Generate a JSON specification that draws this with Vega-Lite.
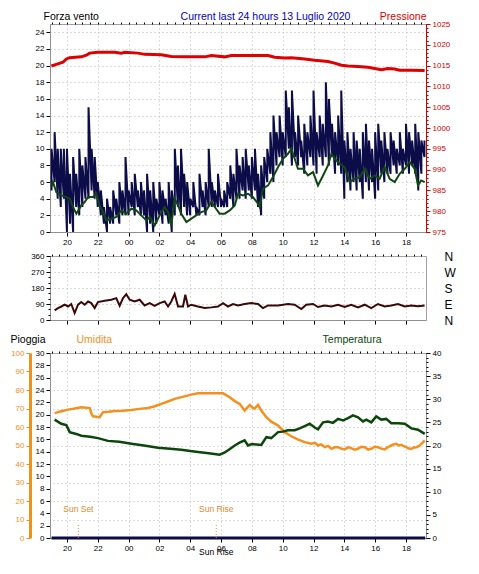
{
"$schema": "https://vega.github.io/schema/vega-lite/v6.json",
"background": "white",
"padding": {"left": 9, "top": 10, "right": 0, "bottom": 0},
"spacing": 2,
"datasets": {
"gust": [
{"h":19.0,"lo":5,"hi":10},{"h":19.2,"lo":6,"hi":12},{"h":19.4,"lo":4,"hi":10},{"h":19.6,"lo":3,"hi":10},{"h":19.8,"lo":4,"hi":10},
{"h":20.0,"lo":0,"hi":10},{"h":20.2,"lo":1,"hi":7},{"h":20.4,"lo":0,"hi":9},{"h":20.6,"lo":3,"hi":7},{"h":20.8,"lo":2,"hi":10},
{"h":21.0,"lo":3,"hi":8},{"h":21.2,"lo":4,"hi":9},{"h":21.4,"lo":4,"hi":15},{"h":21.6,"lo":5,"hi":10},{"h":21.8,"lo":4,"hi":9},
{"h":22.0,"lo":3,"hi":6},{"h":22.2,"lo":2,"hi":5},{"h":22.4,"lo":1,"hi":3},{"h":22.6,"lo":0,"hi":4},{"h":22.8,"lo":1,"hi":3},
{"h":23.0,"lo":1,"hi":5},{"h":23.2,"lo":2,"hi":4},{"h":23.4,"lo":1,"hi":6},{"h":23.6,"lo":2,"hi":5},{"h":23.8,"lo":2,"hi":9},
{"h":24.0,"lo":2,"hi":5},{"h":24.2,"lo":3,"hi":6},{"h":24.4,"lo":2,"hi":7},{"h":24.6,"lo":3,"hi":5},{"h":24.8,"lo":2,"hi":6},
{"h":25.0,"lo":2,"hi":5},{"h":25.2,"lo":0,"hi":7},{"h":25.4,"lo":1,"hi":5},{"h":25.6,"lo":0,"hi":6},{"h":25.8,"lo":1,"hi":4},
{"h":26.0,"lo":2,"hi":6},{"h":26.2,"lo":1,"hi":5},{"h":26.4,"lo":2,"hi":4},{"h":26.6,"lo":1,"hi":6},{"h":26.8,"lo":0,"hi":5},
{"h":27.0,"lo":2,"hi":10},{"h":27.2,"lo":3,"hi":8},{"h":27.4,"lo":2,"hi":10},{"h":27.6,"lo":3,"hi":7},{"h":27.8,"lo":2,"hi":6},
{"h":28.0,"lo":2,"hi":4},{"h":28.2,"lo":3,"hi":6},{"h":28.4,"lo":2,"hi":3},{"h":28.6,"lo":2,"hi":7},{"h":28.8,"lo":3,"hi":5},
{"h":29.0,"lo":2,"hi":6},{"h":29.2,"lo":3,"hi":10},{"h":29.4,"lo":3,"hi":6},{"h":29.6,"lo":3,"hi":5},{"h":29.8,"lo":3,"hi":7},
{"h":30.0,"lo":3,"hi":4},{"h":30.2,"lo":3,"hi":5},{"h":30.4,"lo":3,"hi":6},{"h":30.6,"lo":4,"hi":8},{"h":30.8,"lo":3,"hi":7},
{"h":31.0,"lo":4,"hi":10},{"h":31.2,"lo":4,"hi":8},{"h":31.4,"lo":5,"hi":9},{"h":31.6,"lo":4,"hi":10},{"h":31.8,"lo":5,"hi":8},
{"h":32.0,"lo":4,"hi":9},{"h":32.2,"lo":5,"hi":10},{"h":32.4,"lo":3,"hi":7},{"h":32.6,"lo":2,"hi":8},{"h":32.8,"lo":4,"hi":9},
{"h":33.0,"lo":6,"hi":10},{"h":33.2,"lo":7,"hi":12},{"h":33.4,"lo":6,"hi":14},{"h":33.6,"lo":8,"hi":12},{"h":33.8,"lo":9,"hi":14},
{"h":34.0,"lo":8,"hi":12},{"h":34.2,"lo":9,"hi":17},{"h":34.4,"lo":10,"hi":15},{"h":34.6,"lo":8,"hi":17},{"h":34.8,"lo":9,"hi":12},
{"h":35.0,"lo":8,"hi":14},{"h":35.2,"lo":9,"hi":11},{"h":35.4,"lo":7,"hi":13},{"h":35.6,"lo":8,"hi":12},{"h":35.8,"lo":9,"hi":14},
{"h":36.0,"lo":8,"hi":17},{"h":36.2,"lo":7,"hi":12},{"h":36.4,"lo":9,"hi":14},{"h":36.6,"lo":8,"hi":13},{"h":36.8,"lo":9,"hi":18},
{"h":37.0,"lo":8,"hi":16},{"h":37.2,"lo":9,"hi":13},{"h":37.4,"lo":7,"hi":12},{"h":37.6,"lo":8,"hi":14},{"h":37.8,"lo":7,"hi":17},
{"h":38.0,"lo":4,"hi":11},{"h":38.2,"lo":6,"hi":12},{"h":38.4,"lo":5,"hi":10},{"h":38.6,"lo":6,"hi":12},{"h":38.8,"lo":5,"hi":11},
{"h":39.0,"lo":6,"hi":10},{"h":39.2,"lo":4,"hi":12},{"h":39.4,"lo":6,"hi":13},{"h":39.6,"lo":5,"hi":11},{"h":39.8,"lo":6,"hi":10},
{"h":40.0,"lo":4,"hi":12},{"h":40.2,"lo":5,"hi":13},{"h":40.4,"lo":7,"hi":11},{"h":40.6,"lo":6,"hi":12},{"h":40.8,"lo":7,"hi":10},
{"h":41.0,"lo":7,"hi":12},{"h":41.2,"lo":8,"hi":11},{"h":41.4,"lo":7,"hi":10},{"h":41.6,"lo":8,"hi":12},{"h":41.8,"lo":7,"hi":10},
{"h":42.0,"lo":8,"hi":13},{"h":42.2,"lo":7,"hi":12},{"h":42.4,"lo":8,"hi":11},{"h":42.6,"lo":7,"hi":13},{"h":42.8,"lo":5,"hi":12},
{"h":43.0,"lo":7,"hi":11},{"h":43.2,"lo":9,"hi":11}
],
"avg": [
{"h":18.99,"v":5.5},{"h":19.09,"v":6.0},{"h":19.31,"v":4.8},{"h":19.64,"v":4.4},{"h":19.96,"v":4.2},{"h":20.18,"v":4.0},{"h":20.39,"v":3.0},{"h":20.61,"v":2.2},{"h":20.93,"v":3.2},{"h":21.15,"v":3.6},
{"h":21.37,"v":4.2},{"h":21.69,"v":4.2},{"h":21.90,"v":4.6},{"h":22.12,"v":3.2},{"h":22.34,"v":2.4},{"h":22.55,"v":1.4},{"h":22.88,"v":1.6},{"h":23.20,"v":1.8},{"h":23.53,"v":2.6},{"h":23.85,"v":2.2},
{"h":24.18,"v":2.8},{"h":24.50,"v":2.6},{"h":24.82,"v":2.0},{"h":25.15,"v":1.4},{"h":25.37,"v":1.8},{"h":25.69,"v":0.8},{"h":26.02,"v":2.0},{"h":26.34,"v":3.0},{"h":26.56,"v":2.4},{"h":26.77,"v":0.8},
{"h":26.99,"v":4.0},{"h":27.21,"v":3.2},{"h":27.42,"v":2.2},{"h":27.75,"v":1.2},{"h":28.07,"v":1.6},{"h":28.39,"v":2.0},{"h":28.72,"v":2.4},{"h":29.04,"v":2.6},{"h":29.37,"v":3.6},{"h":29.59,"v":3.0},
{"h":29.91,"v":2.2},{"h":30.24,"v":2.2},{"h":30.56,"v":2.6},{"h":30.89,"v":3.2},{"h":31.10,"v":4.6},{"h":31.42,"v":4.4},{"h":31.75,"v":4.6},{"h":32.07,"v":4.2},{"h":32.40,"v":3.4},{"h":32.51,"v":3.0},
{"h":32.72,"v":5.2},{"h":33.05,"v":5.6},{"h":33.37,"v":6.6},{"h":33.70,"v":7.8},{"h":34.02,"v":8.8},{"h":34.34,"v":9.4},{"h":34.56,"v":10.0},{"h":34.78,"v":8.8},{"h":34.99,"v":7.6},{"h":35.32,"v":7.6},
{"h":35.64,"v":6.8},{"h":35.97,"v":7.2},{"h":36.29,"v":5.6},{"h":36.62,"v":6.8},{"h":36.94,"v":8.0},{"h":37.16,"v":9.4},{"h":37.38,"v":8.8},{"h":37.70,"v":8.2},{"h":38.02,"v":7.8},{"h":38.35,"v":6.0},
{"h":38.67,"v":6.4},{"h":39.00,"v":6.6},{"h":39.32,"v":7.6},{"h":39.65,"v":6.4},{"h":39.97,"v":6.8},{"h":40.29,"v":6.4},{"h":40.62,"v":7.8},{"h":40.94,"v":6.4},{"h":41.27,"v":6.0},{"h":41.59,"v":7.0},
{"h":41.92,"v":7.6},{"h":42.24,"v":8.4},{"h":42.57,"v":7.6},{"h":42.78,"v":5.6},{"h":42.99,"v":6.2},{"h":43.22,"v":6.0}
],
"press": [
{"h":18.99,"p":1014.9},{"h":19.31,"p":1015.3},{"h":19.74,"p":1015.8},{"h":19.96,"p":1016.6},{"h":20.18,"p":1016.9},{"h":20.93,"p":1017.1},{"h":21.26,"p":1017.5},{"h":21.47,"p":1018.0},{"h":22.01,"p":1018.2},{"h":23.10,"p":1018.2},
{"h":23.53,"p":1018.0},{"h":23.75,"p":1018.2},{"h":24.61,"p":1018.0},{"h":25.04,"p":1017.7},{"h":26.12,"p":1017.6},{"h":26.77,"p":1017.2},{"h":27.64,"p":1017.1},{"h":28.94,"p":1017.1},{"h":29.37,"p":1017.4},{"h":30.23,"p":1017.1},
{"h":30.67,"p":1017.4},{"h":31.97,"p":1017.4},{"h":33.05,"p":1017.4},{"h":33.48,"p":1017.0},{"h":34.13,"p":1016.8},{"h":34.56,"p":1016.9},{"h":35.43,"p":1016.6},{"h":36.07,"p":1016.3},{"h":36.94,"p":1016.0},{"h":37.37,"p":1015.6},
{"h":37.81,"p":1015.1},{"h":38.24,"p":1014.9},{"h":38.89,"p":1014.8},{"h":39.54,"p":1014.6},{"h":39.97,"p":1014.3},{"h":40.40,"p":1014.0},{"h":40.83,"p":1014.3},{"h":41.27,"p":1014.2},{"h":41.59,"p":1013.9},{"h":42.35,"p":1013.9},
{"h":43.21,"p":1013.8}
],
"dir": [
{"h":19.20,"d":54},{"h":19.42,"d":67},{"h":19.64,"d":76},{"h":19.85,"d":86},{"h":20.07,"d":76},{"h":20.28,"d":90},{"h":20.50,"d":39},{"h":20.72,"d":86},{"h":20.93,"d":101},{"h":21.15,"d":86},
{"h":21.37,"d":104},{"h":21.58,"d":95},{"h":21.80,"d":67},{"h":22.01,"d":101},{"h":22.45,"d":108},{"h":22.88,"d":114},{"h":23.20,"d":123},{"h":23.42,"d":80},{"h":23.64,"d":123},{"h":23.85,"d":145},
{"h":24.07,"d":114},{"h":24.39,"d":104},{"h":24.72,"d":114},{"h":25.04,"d":82},{"h":25.37,"d":95},{"h":25.69,"d":80},{"h":26.02,"d":95},{"h":26.34,"d":104},{"h":26.56,"d":76},{"h":26.77,"d":104},
{"h":26.99,"d":147},{"h":27.21,"d":76},{"h":27.53,"d":76},{"h":27.68,"d":142},{"h":27.86,"d":76},{"h":28.07,"d":86},{"h":28.50,"d":76},{"h":28.94,"d":67},{"h":29.37,"d":71},{"h":29.80,"d":76},
{"h":30.13,"d":95},{"h":30.45,"d":76},{"h":30.78,"d":90},{"h":31.10,"d":82},{"h":31.53,"d":90},{"h":31.97,"d":95},{"h":32.40,"d":90},{"h":32.72,"d":67},{"h":33.05,"d":82},{"h":33.70,"d":82},
{"h":34.34,"d":90},{"h":34.78,"d":86},{"h":35.21,"d":62},{"h":35.53,"d":86},{"h":35.97,"d":90},{"h":36.29,"d":73},{"h":36.72,"d":82},{"h":37.16,"d":76},{"h":37.59,"d":86},{"h":38.02,"d":73},
{"h":38.45,"d":86},{"h":38.89,"d":71},{"h":39.32,"d":86},{"h":39.75,"d":67},{"h":40.18,"d":90},{"h":40.62,"d":76},{"h":41.05,"d":82},{"h":41.48,"d":90},{"h":41.92,"d":76},{"h":42.35,"d":82},
{"h":42.78,"d":78},{"h":43.21,"d":82}
],
"hum": [
{"h":19.20,"v":67.5},{"h":19.63,"v":68.5},{"h":20.07,"v":69.4},{"h":20.50,"v":70.0},{"h":20.93,"v":70.7},{"h":21.48,"v":70.2},{"h":21.60,"v":67.0},{"h":21.69,"v":65.8},{"h":22.12,"v":65.3},{"h":22.34,"v":68.0},
{"h":22.70,"v":68.2},{"h":23.10,"v":68.6},{"h":23.60,"v":68.8},{"h":24.18,"v":69.2},{"h":24.70,"v":69.8},{"h":25.26,"v":70.3},{"h":25.70,"v":71.2},{"h":26.12,"v":72.5},{"h":26.55,"v":73.8},{"h":26.99,"v":75.2},
{"h":27.50,"v":76.3},{"h":28.07,"v":77.5},{"h":28.50,"v":78.2},{"h":29.00,"v":78.3},{"h":29.60,"v":78.3},{"h":30.13,"v":78.2},{"h":30.56,"v":76.1},{"h":30.89,"v":74.0},{"h":31.21,"v":72.5},{"h":31.53,"v":68.9},
{"h":31.70,"v":70.5},{"h":31.86,"v":71.9},{"h":32.05,"v":70.3},{"h":32.18,"v":70.0},{"h":32.40,"v":72.0},{"h":32.61,"v":68.9},{"h":32.94,"v":65.3},{"h":33.26,"v":62.9},{"h":33.70,"v":60.8},{"h":34.13,"v":57.2},
{"h":34.56,"v":55.0},{"h":35.00,"v":53.2},{"h":35.43,"v":51.8},{"h":35.86,"v":50.9},{"h":36.10,"v":51.4},{"h":36.29,"v":50.0},{"h":36.50,"v":50.6},{"h":36.73,"v":49.1},{"h":36.95,"v":49.8},{"h":37.16,"v":48.2},
{"h":37.38,"v":49.0},{"h":37.59,"v":49.1},{"h":37.80,"v":48.3},{"h":38.02,"v":47.9},{"h":38.25,"v":49.0},{"h":38.45,"v":48.6},{"h":38.67,"v":47.7},{"h":38.89,"v":48.2},{"h":39.10,"v":49.3},{"h":39.32,"v":49.1},
{"h":39.55,"v":47.8},{"h":39.75,"v":48.2},{"h":39.97,"v":49.3},{"h":40.18,"v":49.1},{"h":40.40,"v":48.3},{"h":40.62,"v":47.9},{"h":40.85,"v":49.2},{"h":41.05,"v":50.0},{"h":41.20,"v":50.6},{"h":41.37,"v":50.9},
{"h":41.55,"v":50.0},{"h":41.70,"v":50.4},{"h":41.86,"v":49.6},{"h":42.02,"v":49.1},{"h":42.20,"v":48.3},{"h":42.35,"v":48.2},{"h":42.50,"v":48.9},{"h":42.67,"v":49.1},{"h":42.85,"v":49.8},{"h":43.00,"v":50.9},
{"h":43.22,"v":52.7}
],
"temp": [
{"h":19.20,"t":25.6},{"h":19.63,"t":24.7},{"h":19.96,"t":24.4},{"h":20.18,"t":22.9},{"h":20.60,"t":22.5},{"h":20.93,"t":22.1},{"h":21.50,"t":21.9},{"h":22.01,"t":21.6},{"h":22.66,"t":21.0},{"h":23.40,"t":20.8},
{"h":24.18,"t":20.4},{"h":25.00,"t":20.0},{"h":25.91,"t":19.5},{"h":26.70,"t":19.3},{"h":27.42,"t":19.1},{"h":28.00,"t":18.8},{"h":28.50,"t":18.6},{"h":29.20,"t":18.3},{"h":29.91,"t":18.0},{"h":30.24,"t":18.5},
{"h":30.55,"t":19.2},{"h":30.89,"t":20.0},{"h":31.20,"t":20.6},{"h":31.53,"t":21.1},{"h":31.75,"t":20.0},{"h":32.00,"t":20.3},{"h":32.29,"t":20.2},{"h":32.61,"t":20.1},{"h":32.94,"t":21.8},{"h":33.26,"t":21.6},
{"h":33.50,"t":22.3},{"h":33.70,"t":22.9},{"h":34.00,"t":23.0},{"h":34.34,"t":23.3},{"h":34.78,"t":23.3},{"h":35.10,"t":23.7},{"h":35.43,"t":24.2},{"h":35.75,"t":24.7},{"h":36.08,"t":23.9},{"h":36.29,"t":23.5},
{"h":36.62,"t":25.0},{"h":36.94,"t":25.2},{"h":37.26,"t":24.9},{"h":37.59,"t":25.75},{"h":37.91,"t":25.4},{"h":38.24,"t":25.9},{"h":38.56,"t":26.5},{"h":38.89,"t":26.1},{"h":39.21,"t":25.2},{"h":39.43,"t":25.6},
{"h":39.75,"t":25.0},{"h":40.07,"t":26.3},{"h":40.40,"t":25.6},{"h":40.72,"t":25.75},{"h":41.05,"t":24.8},{"h":41.48,"t":24.8},{"h":41.92,"t":24.7},{"h":42.35,"t":23.7},{"h":42.78,"t":23.4},{"h":43.22,"t":22.5}
],
"rain": [
{"h":19,"r":0},{"h":20,"r":0},{"h":21,"r":0},{"h":22,"r":0},{"h":23,"r":0},{"h":24,"r":0},{"h":25,"r":0},{"h":26,"r":0},{"h":27,"r":0},{"h":28,"r":0},{"h":29,"r":0},{"h":30,"r":0},{"h":31,"r":0},
{"h":32,"r":0},{"h":33,"r":0},{"h":34,"r":0},{"h":35,"r":0},{"h":36,"r":0},{"h":37,"r":0},{"h":38,"r":0},{"h":39,"r":0},{"h":40,"r":0},{"h":41,"r":0},{"h":42,"r":0},{"h":43,"r":0},{"h":43.25,"r":0}
],
"sun": [{"h":20.74,"ev":"Sun Set"},{"h":29.69,"ev":"Sun Rise"}]
},
"vconcat": [
{
"width": 376, "height": 208,
"layer": [
{"data": {"name": "gust"}, "transform": [{"fold": ["lo", "hi"], "as": ["k", "w"]}],
 "mark": {"type": "line", "color": "#0c0c48", "strokeWidth": 2},
 "encoding": {
  "x": {"field": "h", "type": "quantitative", "scale": {"domain": [18.9, 43.3], "nice": false, "zero": false},
        "axis": {"values": [20,22,24,26,28,30,32,34,36,38,40,42], "labelExpr": "format(datum.value % 24, '02d')", "grid": true, "title": null, "tickSize": 4}},
  "y": {"field": "w", "type": "quantitative", "scale": {"domain": [0, 25], "nice": false},
        "axis": {"values": [0,2,4,6,8,10,12,14,16,18,20,22,24], "grid": true, "title": "Forza vento", "titleAngle": 0, "titleAlign": "left", "titleBaseline": "middle", "titleX": -7, "titleY": -8, "titleColor": "#000000"}},
  "order": [{"field": "h", "type": "quantitative"}, {"field": "k", "type": "nominal"}]
 }},
{"data": {"name": "avg"}, "mark": {"type": "line", "color": "#114811", "strokeWidth": 2},
 "encoding": {
  "x": {"field": "h", "type": "quantitative", "scale": {"domain": [18.9, 43.3], "nice": false, "zero": false},
        "axis": {"values": [19,19.5,20,20.5,21,21.5,22,22.5,23,23.5,24,24.5,25,25.5,26,26.5,27,27.5,28,28.5,29,29.5,30,30.5,31,31.5,32,32.5,33,33.5,34,34.5,35,35.5,36,36.5,37,37.5,38,38.5,39,39.5,40,40.5,41,41.5,42,42.5,43], "labels": false, "grid": false, "domain": false, "tickSize": 2, "title": null}},
  "y": {"field": "v", "type": "quantitative", "scale": {"domain": [0, 25], "nice": false},
        "axis": {"values": [0,1,2,3,4,5,6,7,8,9,10,11,12,13,14,15,16,17,18,19,20,21,22,23,24,25], "labels": false, "grid": false, "domain": false, "tickSize": 2, "title": null}}
 }},
{"data": {"name": "press"}, "mark": {"type": "line", "color": "#e00000", "strokeWidth": 3},
 "encoding": {
  "x": {"field": "h", "type": "quantitative", "scale": {"domain": [18.9, 43.3], "nice": false, "zero": false},
        "axis": {"orient": "top", "labels": false, "ticks": false, "domain": false, "grid": false, "title": "Current last 24 hours 13 Luglio 2020", "titleColor": "#0000c0", "titleX": 215, "titleY": -8, "titleAlign": "center", "titleBaseline": "middle"}},
  "y": {"field": "p", "type": "quantitative", "scale": {"domain": [975, 1025], "nice": false, "zero": false},
        "axis": {"orient": "right", "format": "d", "values": [975,980,985,990,995,1000,1005,1010,1015,1020,1025], "grid": false, "labelColor": "#d00000", "tickColor": "#d00000", "domainColor": "#d00000", "title": "Pressione", "titleColor": "#e00000", "titleAngle": 0, "titleAlign": "right", "titleBaseline": "middle", "titleX": 0, "titleY": -8}}
 }},
{"data": {"name": "press"}, "mark": {"type": "line", "opacity": 0},
 "encoding": {
  "x": {"field": "h", "type": "quantitative", "scale": {"domain": [18.9, 43.3], "nice": false, "zero": false}, "axis": null},
  "y": {"field": "p", "type": "quantitative", "scale": {"domain": [975, 1025], "nice": false, "zero": false},
        "axis": {"orient": "right", "values": [975,976,977,978,979,980,981,982,983,984,985,986,987,988,989,990,991,992,993,994,995,996,997,998,999,1000,1001,1002,1003,1004,1005,1006,1007,1008,1009,1010,1011,1012,1013,1014,1015,1016,1017,1018,1019,1020,1021,1022,1023,1024,1025], "labels": false, "grid": false, "domain": false, "tickSize": 2, "tickColor": "#d00000", "title": null}}
 }}
],
"resolve": {"scale": {"x": "independent", "y": "independent"}}
},
{
"width": 376, "height": 64,
"layer": [
{"data": {"name": "dir"}, "mark": {"type": "line", "color": "#3c0808", "strokeWidth": 2},
 "encoding": {
  "x": {"field": "h", "type": "quantitative", "scale": {"domain": [18.9, 43.3], "nice": false, "zero": false},
        "axis": {"values": [20,22,24,26,28,30,32,34,36,38,40,42], "labels": false, "grid": true, "title": " ", "titleFontSize": 2, "titlePadding": 4, "tickSize": 4}},
  "y": {"field": "d", "type": "quantitative", "scale": {"domain": [0, 360], "nice": false},
        "axis": {"values": [0,90,180,270,360], "grid": true, "title": null}}
 }},
{"data": {"name": "dir"}, "mark": {"type": "line", "opacity": 0},
 "encoding": {
  "x": {"field": "h", "type": "quantitative", "scale": {"domain": [18.9, 43.3], "nice": false, "zero": false},
        "axis": {"values": [19,19.5,20,20.5,21,21.5,22,22.5,23,23.5,24,24.5,25,25.5,26,26.5,27,27.5,28,28.5,29,29.5,30,30.5,31,31.5,32,32.5,33,33.5,34,34.5,35,35.5,36,36.5,37,37.5,38,38.5,39,39.5,40,40.5,41,41.5,42,42.5,43], "labels": false, "grid": false, "domain": false, "tickSize": 2, "title": null}},
  "y": {"field": "d", "type": "quantitative", "scale": {"domain": [0, 360], "nice": false},
        "axis": {"orient": "right", "values": [0,90,180,270,360], "labelExpr": "['N','E','S','W','N'][round(datum.value/90)]", "ticks": false, "domain": false, "grid": false, "labelFontSize": 12, "labelPadding": 18, "title": null}}
 }},
{"data": {"name": "dir"}, "mark": {"type": "line", "opacity": 0},
 "encoding": {
  "x": {"field": "h", "type": "quantitative", "scale": {"domain": [18.9, 43.3], "nice": false, "zero": false}, "axis": null},
  "y": {"field": "d", "type": "quantitative", "scale": {"domain": [0, 360], "nice": false},
        "axis": {"values": [0,30,60,90,120,150,180,210,240,270,300,330,360], "labels": false, "grid": false, "domain": false, "tickSize": 2, "title": null}}
 }}
],
"resolve": {"scale": {"x": "independent", "y": "independent"}}
},
{
"width": 376, "height": 185,
"layer": [
{"data": {"name": "hum"}, "mark": {"type": "line", "color": "#f5901e", "strokeWidth": 2.5},
 "encoding": {
  "x": {"field": "h", "type": "quantitative", "scale": {"domain": [18.9, 43.3], "nice": false, "zero": false},
        "axis": {"values": [20,22,24,26,28,30,32,34,36,38,40,42], "labelExpr": "format(datum.value % 24, '02d')", "grid": true, "title": null, "tickSize": 4}},
  "y": {"field": "v", "type": "quantitative", "scale": {"domain": [0, 100], "nice": false},
        "axis": {"orient": "left", "offset": 20, "values": [0,10,20,30,40,50,60,70,80,90,100], "grid": false, "labelColor": "#f0901e", "tickColor": "#f0901e", "domainColor": "#f0901e", "domainWidth": 3, "title": "Umidita", "titleColor": "#f0901e", "titleAngle": 0, "titleAlign": "left", "titleBaseline": "middle", "titleX": 46, "titleY": -14}}
 }},
{"data": {"name": "hum"}, "mark": {"type": "line", "opacity": 0},
 "encoding": {
  "x": {"field": "h", "type": "quantitative", "scale": {"domain": [18.9, 43.3], "nice": false, "zero": false}, "axis": null},
  "y": {"field": "v", "type": "quantitative", "scale": {"domain": [0, 100], "nice": false},
        "axis": {"values": [0,10,20,30,40,50,60,70,80,90,100], "labels": false, "ticks": false, "domain": false, "grid": true, "title": null}}
 }},
{"data": {"name": "temp"}, "mark": {"type": "line", "color": "#0b470b", "strokeWidth": 2.5},
 "encoding": {
  "x": {"field": "h", "type": "quantitative", "scale": {"domain": [18.9, 43.3], "nice": false, "zero": false}, "axis": null},
  "y": {"field": "t", "type": "quantitative", "scale": {"domain": [0, 40], "nice": false},
        "axis": {"orient": "right", "values": [0,5,10,15,20,25,30,35,40], "grid": false, "title": "Temperatura", "titleColor": "#0b470b", "titleAngle": 0, "titleAlign": "right", "titleBaseline": "middle", "titleX": -45, "titleY": -14}}
 }},
{"data": {"name": "temp"}, "mark": {"type": "line", "opacity": 0},
 "encoding": {
  "x": {"field": "h", "type": "quantitative", "scale": {"domain": [18.9, 43.3], "nice": false, "zero": false}, "axis": null},
  "y": {"field": "t", "type": "quantitative", "scale": {"domain": [0, 40], "nice": false},
        "axis": {"orient": "right", "values": [0,1,2,3,4,5,6,7,8,9,10,11,12,13,14,15,16,17,18,19,20,21,22,23,24,25,26,27,28,29,30,31,32,33,34,35,36,37,38,39,40], "labels": false, "grid": false, "domain": false, "tickSize": 2, "title": null}}
 }},
{"data": {"name": "rain"}, "mark": {"type": "line", "color": "#0c0c48", "strokeWidth": 3},
 "encoding": {
  "x": {"field": "h", "type": "quantitative", "scale": {"domain": [18.9, 43.3], "nice": false, "zero": false},
        "axis": {"values": [19,19.5,20,20.5,21,21.5,22,22.5,23,23.5,24,24.5,25,25.5,26,26.5,27,27.5,28,28.5,29,29.5,30,30.5,31,31.5,32,32.5,33,33.5,34,34.5,35,35.5,36,36.5,37,37.5,38,38.5,39,39.5,40,40.5,41,41.5,42,42.5,43], "labels": false, "grid": false, "domain": false, "tickSize": 2, "title": null}},
  "y": {"field": "r", "type": "quantitative", "scale": {"domain": [0, 30], "nice": false},
        "axis": {"values": [0,2,4,6,8,10,12,14,16,18,20,22,24,26,28,30], "grid": false, "title": "Pioggia", "titleColor": "#000000", "titleAngle": 0, "titleAlign": "left", "titleBaseline": "middle", "titleX": -40, "titleY": -14}}
 }},
{"data": {"name": "sun"}, "mark": {"type": "rule", "color": "#e08a30", "strokeDash": [1, 2], "strokeWidth": 1},
 "encoding": {
  "x": {"field": "h", "type": "quantitative", "scale": {"domain": [18.9, 43.3], "nice": false, "zero": false}, "axis": null},
  "y": {"datum": 0, "type": "quantitative", "scale": {"domain": [0, 30], "nice": false}, "axis": null},
  "y2": {"datum": 2.3}
 }},
{"data": {"name": "sun"}, "mark": {"type": "text", "color": "#e08a30", "fontSize": 8.5, "font": "Liberation Sans"},
 "encoding": {
  "x": {"field": "h", "type": "quantitative", "scale": {"domain": [18.9, 43.3], "nice": false, "zero": false}, "axis": null},
  "y": {"datum": 4.7, "type": "quantitative", "scale": {"domain": [0, 30], "nice": false}, "axis": null},
  "text": {"field": "ev"}
 }},
{"data": {"name": "sun"}, "transform": [{"filter": "datum.ev == 'Sun Rise'"}],
 "mark": {"type": "text", "color": "#000000", "fontSize": 8.5, "font": "Liberation Sans"},
 "encoding": {
  "x": {"field": "h", "type": "quantitative", "scale": {"domain": [18.9, 43.3], "nice": false, "zero": false}, "axis": null},
  "y": {"datum": -2.2, "type": "quantitative", "scale": {"domain": [0, 30], "nice": false}, "axis": null},
  "text": {"field": "ev"}
 }}
],
"resolve": {"scale": {"x": "independent", "y": "independent"}}
}
],
"config": {
 "font": "Liberation Sans",
 "view": {"stroke": "#a0a0a0"},
 "axis": {"labelFont": "Liberation Sans", "labelFontSize": 8, "labelColor": "#000000", "tickColor": "#000000", "domainColor": "#909090", "gridColor": "#b8b8b8", "gridDash": [1, 3], "tickSize": 4, "labelPadding": 2, "titleFont": "Liberation Sans", "titleFontWeight": "normal", "titleFontSize": 10.5}
}
}
